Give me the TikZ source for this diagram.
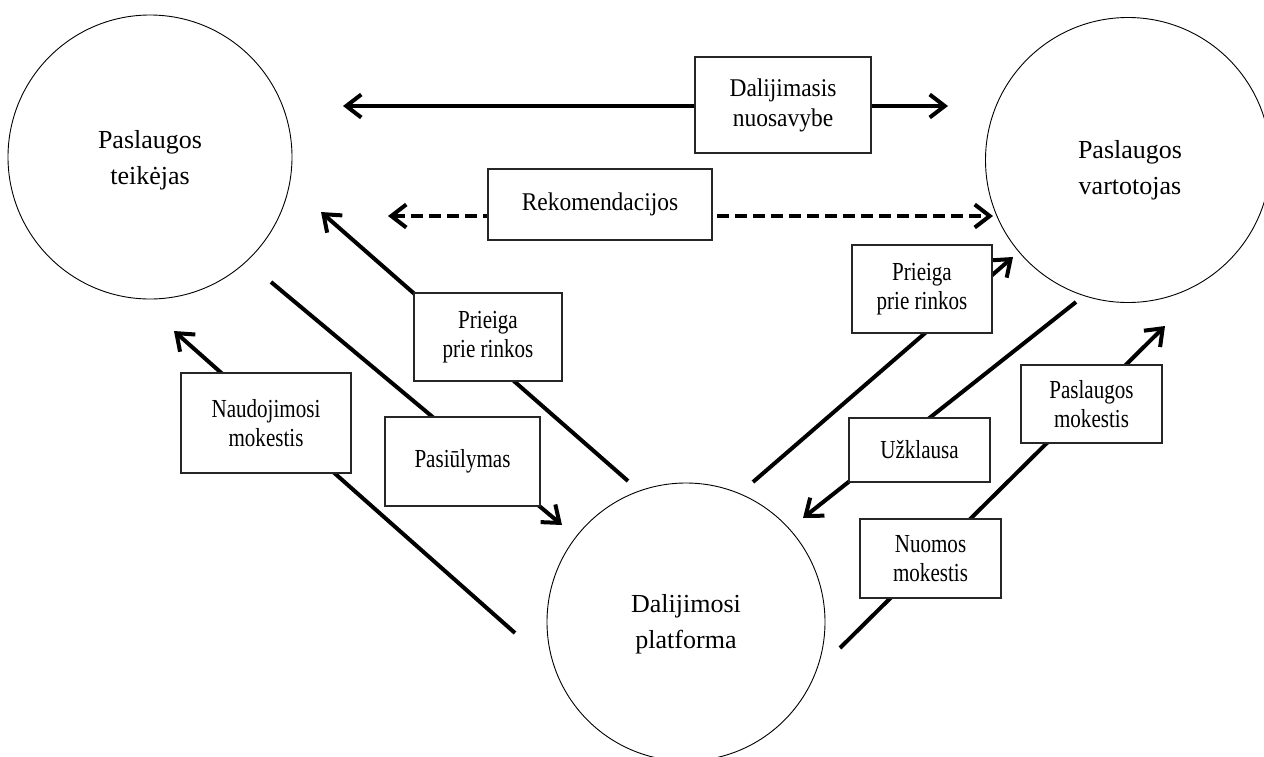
\documentclass[tikz,border=0pt]{standalone}
\usepackage{fontspec}
\setmainfont{Liberation Serif}
\newfontfamily\boxfont[FakeStretch=0.81]{Liberation Serif}
\newfontfamily\boxfontwide[FakeStretch=0.92]{Liberation Serif}
\usetikzlibrary{arrows.meta}
\begin{document}
\begin{tikzpicture}[x=1pt,y=-1pt,
  bb/.tip={Straight Barb[length=15pt,width=23pt]},
  ent/.style={draw, circle, line width=0.9pt, inner sep=0pt},
  enttext/.style={align=center, inner sep=0pt, font=\fontsize{26}{36}\selectfont},
  lbl/.style={draw=black!85, line width=1.2pt, fill=white, inner sep=0pt, align=center,
              font=\boxfont\fontsize{26}{29}\selectfont},
  lblbig/.style={lbl, font=\boxfontwide\fontsize{25.5}{30}\selectfont},
  flow/.style={line width=4pt, -bb},
  flowboth/.style={line width=4pt, bb-bb},
  dashflow/.style={flowboth, dash pattern=on 12pt off 6pt}]
\useasboundingbox (0,0) rectangle (1264,756);

% entities
\node[ent, minimum size=284pt] (prov) at (150,157) {};
\node[ent, minimum size=285pt] (cons) at (1128,160) {};
\node[ent, minimum size=278pt] (plat) at (686,622) {};
\node[enttext] (provT) at (150,160) {Paslaugos\\teikėjas};
\node[enttext] (consT) at (1130,170) {Paslaugos\\vartotojas};
\node[enttext] (platT) at (686,624) {Dalijimosi\\platforma};

% free ends of the connectors
\coordinate (shL) at (343,106);  \coordinate (shR) at (948,106);
\coordinate (reL) at (388,216);  \coordinate (reR) at (993,216);
\coordinate (alA) at (628,481);  \coordinate (alB) at (321,212);
\coordinate (ofA) at (271,282);  \coordinate (ofB) at (562,525);
\coordinate (ufA) at (515,633);  \coordinate (ufB) at (174,331);
\coordinate (arA) at (753,482);  \coordinate (arB) at (1013,257);
\coordinate (rqA) at (1076,302); \coordinate (rqB) at (803,518);
\coordinate (sfA) at (840,648);  \coordinate (sfB) at (1165,326);

% connectors
\draw[flowboth] (shL) -- (shR);
\draw[dashflow] (reL) -- (reR);
\draw[flow] (alA) -- (alB);
\draw[flow] (ofA) -- (ofB);
\draw[flow] (ufA) -- (ufB);
\draw[flow] (arA) -- (arB);
\draw[flow] (rqA) -- (rqB);
\draw[flow] (sfA) -- (sfB);

% labels on the connectors
\node[lblbig, minimum width=176pt, minimum height=96pt] (share) at (783,105) {Dalijimasis\\nuosavybe};
\node[lblbig, minimum width=224pt, minimum height=71pt] (rec) at (600,204.5) {Rekomendacijos};
\node[lbl, minimum width=148pt, minimum height=88pt] (accL) at (488,337) {Prieiga\\prie rinkos};
\node[lbl, minimum width=155pt, minimum height=89pt] (offer) at (462.5,461.5) {Pasiūlymas};
\node[lbl, minimum width=170pt, minimum height=100pt] (usefee) at (266,423) {Naudojimosi\\mokestis};
\node[lbl, minimum width=140pt, minimum height=88pt] (accR) at (922,289) {Prieiga\\prie rinkos};
\node[lbl, minimum width=141pt, minimum height=64pt] (req) at (919.5,450) {Užklausa};
\node[lbl, minimum width=141pt, minimum height=78pt] (svcfee) at (1091.5,404) {Paslaugos\\mokestis};
\node[lbl, minimum width=141pt, minimum height=79pt] (rent) at (930.5,558.5) {Nuomos\\mokestis};
\end{tikzpicture}
\end{document}
